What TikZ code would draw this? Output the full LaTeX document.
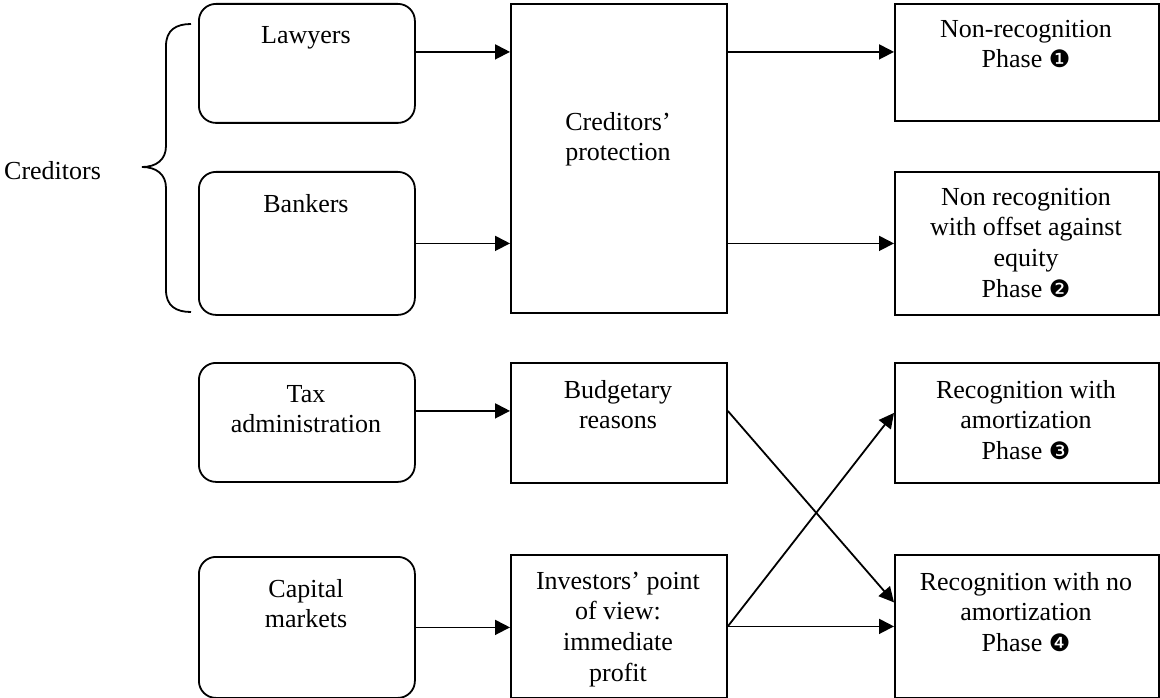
\documentclass[tikz,border=0pt]{standalone}
\usepackage{fontspec}
\setmainfont{Liberation Serif}
\newfontfamily\djv{DejaVu Sans}
\usetikzlibrary{arrows.meta}
\newcommand\myst{\rule{0pt}{20pt}}
\newcommand\ph[1]{Phase {\djv\fontsize{24}{24}\selectfont #1}}
\tikzset{
  box/.style={draw, line width=1.8pt, anchor=north west, inner sep=0pt},
  rbox/.style={box, rounded corners=17pt},
  txt/.style={anchor=north, inner sep=0pt, align=center, font=\fontsize{26}{30.7}\selectfont},
  arr/.style={line width=1.8pt, -{Triangle[length=15pt,width=15pt]}},
}
\begin{document}
\begin{tikzpicture}[x=1pt,y=-1pt]
\useasboundingbox (0,0) rectangle (1160,698);
% left column
\node[rbox, minimum width=216pt, minimum height=119pt] (law) at (198,3) {};
\node[rbox, minimum width=216pt, minimum height=143pt] (bank) at (198,171) {};
\node[rbox, minimum width=216pt, minimum height=119pt] (tax) at (198,362) {};
\node[rbox, minimum width=216pt, minimum height=141pt] (cap) at (198,556) {};
% middle column
\node[box, minimum width=216pt, minimum height=309pt] (cp) at (510,3) {};
\node[box, minimum width=216pt, minimum height=120pt] (bud) at (510,362) {};
\node[box, minimum width=216pt, minimum height=143pt] (inv) at (510,554) {};
% right column
\node[box, minimum width=264pt, minimum height=117pt] (nr1) at (894,3) {};
\node[box, minimum width=264pt, minimum height=143pt] (nr2) at (894,171) {};
\node[box, minimum width=264pt, minimum height=120pt] (r3) at (894,362) {};
\node[box, minimum width=264pt, minimum height=143pt] (r4) at (894,554) {};
% texts
\node[txt] (lawt) at (306,23) {\myst Lawyers};
\node[txt] (bankt) at (306,192) {\myst Bankers};
\node[txt] (taxt) at (306,382) {\myst Tax\\administration};
\node[txt] (capt) at (306,577) {\myst Capital\\markets};
\node[txt] (cpt) at (618,110) {\myst Creditors’\\protection};
\node[txt] (budt) at (618,378) {\myst Budgetary\\reasons};
\node[txt] (invt) at (618,569) {\myst Investors’ point\\of view:\\immediate\\profit};
\node[txt] (nr1t) at (1026,17) {\myst Non-recognition\\\ph{❶}};
\node[txt] (nr2t) at (1026,185) {\myst Non recognition\\with offset against\\equity\\\ph{❷}};
\node[txt] (r3t) at (1026,378) {\myst Recognition with\\amortization\\\ph{❸}};
\node[txt] (r4t) at (1026,570) {\myst Recognition with no\\amortization\\\ph{❹}};
\node[anchor=base west, inner sep=0pt, font=\fontsize{26}{30.7}\selectfont] (cred) at (4,180) {Creditors};
% brace
\draw[line width=1.8pt] (191,24) .. controls (176,24) and (166,30) .. (166,46) -- (166,146)
  .. controls (166,160) and (156,167) .. (142,167)
  .. controls (156,167) and (166,174) .. (166,188) -- (166,290)
  .. controls (166,306) and (176,312) .. (191,312);
% arrows
\draw[arr] ([yshift=11.5pt]law.east) -- ([yshift=11.5pt]law.east -| cp.west);
\draw[arr] (bank.east) -- (bank.east -| cp.west);
\draw[arr] ([yshift=10.5pt]nr1.west -| cp.east) -- ([yshift=10.5pt]nr1.west);
\draw[arr] (nr2.west -| cp.east) -- (nr2.west);
\draw[arr] ([yshift=11.5pt]tax.east) -- ([yshift=11.5pt]tax.east -| bud.west);
\draw[arr] (cap.east) -- (cap.east -| inv.west);
\draw[arr] ([yshift=12pt]bud.east) -- ([yshift=24pt]r4.west);
\draw[arr] (inv.east) -- ([yshift=10pt]r3.west);
\draw[arr] (inv.east) -- (inv.east -| r4.west);
\end{tikzpicture}
\end{document}
